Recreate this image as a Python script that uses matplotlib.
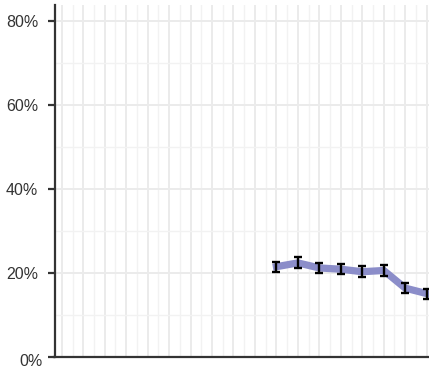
import numpy as np
import matplotlib.pyplot as plt
from matplotlib.ticker import MultipleLocator, FuncFormatter

# years shown on the panel (no labels drawn), data only for the last ones
years = list(range(2000, 2018))
data_years = [2010, 2011, 2012, 2013, 2014, 2015, 2016, 2017]
share = [21.5, 22.4, 21.2, 20.9, 20.3, 20.6, 16.4, 15.1]
err = [1.2, 1.3, 1.2, 1.2, 1.3, 1.3, 1.2, 1.2]
y_ticks = [0, 20, 40, 60, 80]

plt.rcParams['font.family'] = ['Liberation Sans', 'DejaVu Sans']

fig = plt.figure(figsize=(4.29, 3.71), dpi=100)
ax = fig.add_axes([54.5/429, 14/371, 1 - 54.5/429, 352/371])

ax.plot(data_years, share, color='#8b8dc9', lw=5.2, solid_joinstyle='miter', zorder=3)
ax.errorbar(data_years, share, yerr=err, fmt='none', ecolor='black',
            elinewidth=1.7, capsize=2.8, capthick=1.7, zorder=4)

ax.set_xlim(years[0] - 0.34, years[-1] + 0.11)
ax.set_ylim(0, 83.8)

ax.xaxis.set_major_locator(MultipleLocator(1))
ax.xaxis.set_minor_locator(MultipleLocator(0.5))
ax.set_yticks(y_ticks)
ax.yaxis.set_minor_locator(MultipleLocator(10))
# 0% label is drawn separately, a bit lower and to the right as in the original
ax.set_yticklabels([''] + [f'{v}%' for v in y_ticks[1:]])
ax.text(-0.031, -1.1, f'{y_ticks[0]}%', transform=ax.get_yaxis_transform(),
        ha='right', va='center', fontsize=11.5, color='#333333')

ax.grid(which='major', color='#ebebeb', lw=1.4, zorder=0)
ax.grid(which='minor', color='#f2f2f2', lw=1.0, zorder=0)
ax.set_axisbelow(True)

ax.tick_params(axis='x', which='both', length=0, labelbottom=False)
ax.tick_params(axis='y', which='major', length=5.2, width=1.6, color='#333333',
               labelsize=11.5, labelcolor='#333333', pad=6.5)
ax.tick_params(axis='y', which='minor', length=0)

for s in ['top', 'right']:
    ax.spines[s].set_visible(False)
for s in ['left', 'bottom']:
    ax.spines[s].set_color('#333333')
    ax.spines[s].set_linewidth(1.6)

fig.savefig('out.png', dpi=100)
